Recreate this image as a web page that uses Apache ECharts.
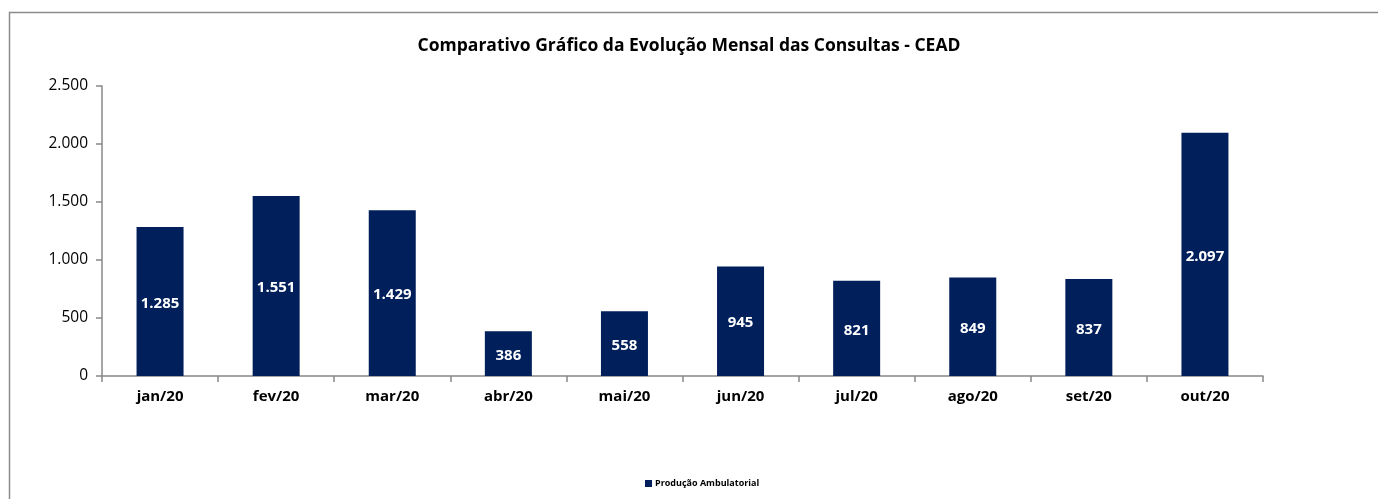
<!DOCTYPE html>
<html>
<head>
<meta charset="utf-8">
<script src="https://cdn.jsdelivr.net/npm/echarts@6/dist/echarts.min.js"></script>
<style>
html,body{margin:0;padding:0;background:#fff;}
#chart{width:1378px;height:499px;}
</style>
</head>
<body>
<div id="chart"></div>
<script>
const categories = ['jan/20','fev/20','mar/20','abr/20','mai/20','jun/20','jul/20','ago/20','set/20','out/20'];
const producaoAmbulatorial = [1285, 1551, 1429, 386, 558, 945, 821, 849, 837, 2097];
const yTicks = [0, 500, 1000, 1500, 2000, 2500];

function fmt(v){ return String(v).replace(/\B(?=(\d{3})+(?!\d))/g, '.'); }

const chart = echarts.init(document.getElementById('chart'));
const font = '"Open Sans", "DejaVu Sans", sans-serif';
chart.setOption({
  animation: false,
  backgroundColor: '#fff',
  graphic: [{
    type: 'rect',
    shape: { x: 9.5, y: 12.5, width: 1400, height: 520 },
    style: { fill: 'none', stroke: '#8c8c8c', lineWidth: 1.5 },
    silent: true
  }],
  title: {
    text: 'Comparativo Gráfico da Evolução Mensal das Consultas - CEAD',
    left: 'center',
    top: 32,
    textStyle: { fontFamily: font, fontSize: 17.5, fontWeight: 'bold', color: '#000' }
  },
  legend: {
    bottom: 6,
    left: 640,
    itemWidth: 7,
    itemHeight: 7,
    itemGap: 4,
    icon: 'rect',
    textStyle: { fontFamily: font, fontSize: 9, fontWeight: 'bold', color: '#000', padding: [0,0,0,-2] },
    data: ['Produção Ambulatorial']
  },
  grid: { left: 102, right: 115, top: 86, bottom: 123, containLabel: false },
  xAxis: {
    type: 'category',
    data: categories,
    axisLine: { lineStyle: { color: '#888', width: 1.5 } },
    axisTick: { show: true, alignWithLabel: false, length: 6, lineStyle: { color: '#888', width: 1.5 } },
    axisLabel: { fontFamily: font, fontSize: 15, fontWeight: 'bold', color: '#000', margin: 13 }
  },
  yAxis: {
    type: 'value',
    min: yTicks[0],
    max: yTicks[yTicks.length - 1],
    interval: 500,
    axisLine: { show: true, lineStyle: { color: '#888', width: 1.5 } },
    axisTick: { show: true, length: 6, lineStyle: { color: '#888', width: 1.5 } },
    splitLine: { show: false },
    axisLabel: { fontFamily: font, fontSize: 15.5, color: '#000', margin: 14, formatter: v => fmt(v) }
  },
  series: [{
    name: 'Produção Ambulatorial',
    type: 'bar',
    data: producaoAmbulatorial,
    barWidth: 47,
    itemStyle: { color: '#001f5b' },
    label: {
      show: true,
      position: 'inside',
      offset: [0, 2],
      fontFamily: font,
      fontSize: 15,
      fontWeight: 'bold',
      color: '#fff',
      formatter: p => fmt(p.value)
    }
  }]
});
</script>
</body>
</html>
